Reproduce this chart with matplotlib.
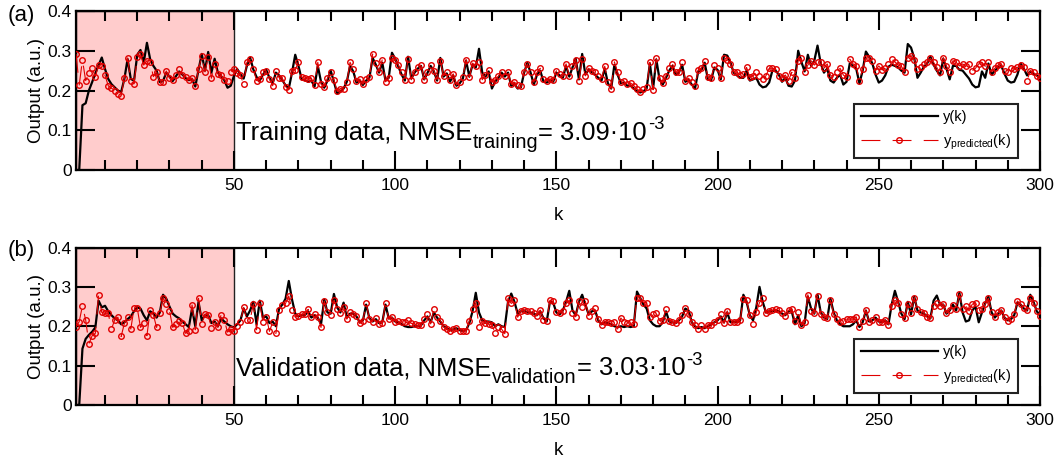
import numpy as np
import matplotlib
matplotlib.use('Agg')
import matplotlib.pyplot as plt
from matplotlib.ticker import MultipleLocator, FixedLocator, FixedFormatter

plt.rcParams['font.family'] = ['Liberation Sans', 'DejaVu Sans']
plt.rcParams['mathtext.fontset'] = 'custom'
plt.rcParams['mathtext.rm'] = 'Liberation Sans'
plt.rcParams['mathtext.it'] = 'Liberation Sans:italic'

#####data (k = 1..300)
# (a) training data, measured output y(k)
y_train = [
    0, 0, .163, .168, .200, .221, .243, .264, .283, .254,
    .229, .216, .208, .200, .196, .229, .279, .229, .225, .290,
    .302, .270, .320, .279, .262, .250, .221, .224, .245, .235,
    .224, .236, .248, .240, .232, .226, .229, .210, .252, .292,
    .250, .297, .245, .280, .245, .236, .226, .207, .212, .237,
    .254, .241, .230, .262, .283, .253, .234, .225, .240, .252,
    .232, .218, .245, .238, .226, .213, .205, .245, .290,
    .262, .228, .226, .222, .225, .210, .262, .222, .207, .225,
    .250, .222, .192, .198, .205, .222, .262, .248, .220, .225,
    .214, .225, .232, .282, .265, .245, .270, .225, .232, .295,
    .280, .260, .240, .225, .285, .230, .245, .255, .262, .228,
    .244, .262, .248, .225, .282, .235, .243, .222, .238, .212,
    .218, .230, .275, .235, .265, .258, .305, .245, .235, .248,
    .205, .222, .232, .245, .235, .245, .212, .216, .205, .208,
    .245, .270, .245, .215, .240, .250,
    .222, .220, .225, .222, .245, .238, .232, .262, .235, .258,
    .280, .228, .292, .240, .252, .246, .240, .232, .225, .255,
    .218, .205, .265, .240, .218, .220, .212, .212, .205, .198,
    .195, .198, .205, .268, .205, .278, .228, .215, .232, .250,
    .262, .240, .245, .265, .222, .226, .215, .205, .248, .252,
    .270, .228, .226, .258, .252, .228, .290, .288, .270, .245,
    .238, .232, .232, .250, .225, .228, .232, .215, .208, .210,
    .220, .250, .250, .240, .222,
    .232, .212, .210, .225, .300, .272, .248, .290, .262, .275,
    .313, .268, .245, .255, .225, .220, .232, .240, .215, .222,
    .268, .262, .255, .218, .250, .298, .285, .268, .240, .220,
    .225, .238, .260, .265, .262, .258, .250, .245, .317, .308,
    .282, .232, .245, .260, .268, .285, .265, .250, .238, .280,
    .255, .228, .262, .262, .252, .250, .240, .230, .215, .208,
    .210, .248, .232, .268, .240, .250, .258, .262, .242, .225,
    .220, .222, .240, .268, .255, .238, .248, .242, .238, .232]
# (a) training data, predicted output
yp_train = [
    .292, .214, .277, .225, .243, .256, .235, .264, .261, .238,
    .212, .206, .200, .191, .187, .232, .282, .223, .217, .284,
    .292, .264, .275, .271, .235, .247, .221, .221, .249, .232,
    .227, .238, .253, .240, .235, .227, .231, .212, .253, .287,
    .247, .284, .231, .267, .242, .238, .227, .223, .247, .255,
    .243, .238, .216, .271, .279, .254, .225, .229, .246, .250,
    .229, .212, .250, .232, .231, .210, .202, .250, .252,
    .272, .233, .231, .229, .231, .214, .271, .216, .210, .231,
    .247, .227, .198, .205, .205, .221, .271, .254, .223, .229,
    .216, .229, .233, .292, .268, .247, .278, .222, .231, .281,
    .278, .264, .246, .227, .279, .227, .247, .258, .264, .227,
    .247, .264, .250, .227, .275, .237, .246, .227, .242, .214,
    .221, .233, .278, .233, .269, .261, .271, .227, .239, .252,
    .221, .227, .236, .247, .237, .247, .216, .221, .214, .212,
    .247, .267, .246, .221, .246, .256,
    .229, .225, .229, .227, .250, .241, .237, .267, .237, .262,
    .278, .225, .279, .237, .256, .250, .246, .237, .229, .261,
    .221, .204, .272, .246, .221, .225, .216, .219, .212, .204,
    .197, .205, .210, .271, .202, .281, .231, .219, .237, .256,
    .267, .246, .247, .272, .225, .231, .221, .212, .252, .256,
    .275, .233, .231, .264, .256, .231, .281, .278, .267, .247,
    .246, .239, .241, .258, .233, .237, .246, .237, .229, .237,
    .256, .256, .254, .237, .231,
    .239, .225, .246, .231, .275, .281, .247, .264, .275, .264,
    .272, .272, .256, .267, .239, .233, .246, .256, .239, .233,
    .279, .267, .262, .225, .254, .281, .283, .275, .250, .262,
    .252, .256, .267, .279, .272, .264, .261, .247, .283, .288,
    .278, .254, .258, .267, .271, .281, .271, .258, .246, .283,
    .261, .247, .275, .271, .262, .267, .261, .267, .250, .256,
    .267, .271, .261, .271, .247, .256, .264, .267, .250, .247,
    .256, .254, .258, .264, .258, .225, .250, .246, .236, .232]
# (b) validation data, measured output y(k)
y_valid = [
    0, 0, .143, .168, .178, .186, .197, .265, .248, .252,
    .238, .228, .220, .215, .205, .210, .218, .225, .238, .248,
    .245, .228, .215, .238, .232, .222, .235, .280, .270, .250,
    .232, .225, .220, .212, .205, .198, .245, .200, .262, .215,
    .228, .228, .208, .212, .200, .220, .212, .205, .200, .197,
    .205, .215, .245, .225, .240, .262, .205, .265, .222, .225,
    .208, .212, .200, .245, .255, .270, .315, .268, .232, .225,
    .228,
    .228, .238, .222, .228, .222, .205, .268, .235, .232, .282,
    .248, .235, .260, .222, .232, .232, .225, .210, .215, .255,
    .220, .212, .218, .208, .210, .255, .220, .222, .212, .210,
    .205, .200, .198, .198, .200, .200, .202, .215, .225, .210,
    .235, .222, .212, .200, .195, .190, .192, .195, .190, .188,
    .190, .208, .238, .285, .235, .215, .212, .212, .210, .200,
    .205, .200, .198, .262, .283, .262, .232, .238, .240, .235,
    .235, .232, .228, .238, .220,
    .212, .262, .260, .235, .230, .240, .262, .290, .240, .228,
    .262, .280, .255, .230, .238, .240, .215, .205, .210, .208,
    .205, .200, .198, .200, .198, .200, .198, .200, .288, .272,
    .255, .245, .215, .205, .200, .200, .210, .238, .212, .210,
    .208, .215, .225, .245, .240, .210, .200, .195, .198, .195,
    .200, .205, .210, .215, .225, .210, .235, .210, .212, .210,
    .215, .280, .262, .228, .215, .248, .300, .262, .235, .238,
    .238, .240, .238, .232, .228,
    .238, .238, .205, .228, .200, .208, .275, .245, .232, .280,
    .235, .222, .218, .270, .235, .215, .205, .200, .200, .200,
    .205, .215, .198, .210, .240, .212, .215, .222, .212, .210,
    .215, .205, .255, .290, .262, .232, .218, .262, .230, .275,
    .240, .235, .232, .225, .220, .265, .278, .255, .255, .232,
    .240, .255, .240, .285, .235, .212, .215, .240, .250, .210,
    .235, .258, .275, .235, .222, .232, .240, .222, .215, .218,
    .228, .260, .255, .245, .240, .280, .262, .238, .228]
# (b) validation data, predicted output
yp_valid = [
    .197, .212, .252, .216, .155, .176, .182, .280, .235, .233,
    .233, .193, .216, .223, .174, .207, .224, .193, .246, .246,
    .197, .207, .176, .241, .229, .197, .233, .273, .256, .239,
    .197, .206, .214, .207, .182, .189, .254, .191, .271, .206,
    .231, .229, .196, .212, .197, .229, .216, .185, .193, .189,
    .201, .210, .248, .216, .216, .256, .191, .258, .210, .224,
    .187, .210, .182, .241, .254, .258, .277, .241, .223, .227,
    .231,
    .231, .243, .223, .231, .224, .197, .264, .235, .229, .266,
    .243, .233, .249, .218, .235, .231, .227, .207, .214, .260,
    .218, .212, .221, .206, .207, .258, .218, .223, .212, .214,
    .212, .210, .216, .207, .206, .202, .202, .218, .231, .206,
    .243, .223, .214, .199, .193, .189, .193, .196, .189, .187,
    .189, .214, .243, .260, .199, .214, .207, .206, .204, .182,
    .197, .193, .181, .271, .258, .266, .223, .239, .241, .238,
    .238, .233, .227, .241, .216,
    .214, .266, .263, .235, .233, .239, .258, .266, .233, .224,
    .263, .249, .263, .227, .239, .246, .218, .204, .212, .210,
    .207, .212, .193, .221, .210, .207, .210, .206, .273, .271,
    .260, .260, .223, .231, .233, .214, .216, .243, .214, .210,
    .207, .216, .229, .246, .231, .210, .202, .193, .202, .193,
    .204, .204, .210, .216, .231, .207, .239, .210, .212, .210,
    .216, .269, .266, .229, .206, .235, .260, .273, .233, .238,
    .241, .243, .241, .233, .227,
    .241, .243, .214, .235, .202, .210, .280, .239, .233, .277,
    .231, .224, .221, .266, .231, .218, .212, .214, .218, .218,
    .218, .224, .197, .214, .241, .212, .216, .224, .212, .210,
    .216, .204, .252, .266, .260, .231, .221, .256, .233, .273,
    .243, .235, .233, .223, .221, .252, .258, .252, .256, .233,
    .241, .254, .243, .281, .243, .252, .239, .256, .260, .241,
    .243, .256, .271, .235, .224, .235, .241, .223, .214, .218,
    .231, .264, .256, .246, .241, .271, .258, .239, .227]

# annotation pieces: main text, subscript, value, exponent
panels = [
    ('(a)', y_train, yp_train, ['Training data, NMSE', 'training', '= 3.09·10', '-3']),
    ('(b)', y_valid, yp_valid, ['Validation data, NMSE', 'validation', '= 3.03·10', '-3']),
]
ytick_vals = [0, 0.1, 0.2, 0.3, 0.4]
ytick_labels = ['0', '0.1', '0.2', '0.3', '0.4']
red = '#e00000'
fs_note = 18.4

fig = plt.figure(figsize=(10.57, 4.61), dpi=100)
renderer = fig.canvas.get_renderer()
# axes boxes in figure fractions [left, bottom, width, height]
boxes = [[0.0719, 0.6312, 0.912, 0.3449],
         [0.0719, 0.1215, 0.912, 0.3416]]
tag_y = [1 - 5 / 461, 1 - 240 / 461]

for (tag, y_meas, y_pred, note), box, ty in zip(panels, boxes, tag_y):
    ax = fig.add_axes(box)
    k_m = np.arange(1, len(y_meas) + 1)
    k_p = np.arange(1, len(y_pred) + 1)
    # shaded start-up region
    ax.axvspan(1, 50, facecolor='#ffcccc', edgecolor='#222222', lw=1.0, zorder=0)
    ax.plot(k_m, y_meas, color='black', lw=1.6, label='y(k)', zorder=2)
    l, = ax.plot(k_p, y_pred, color=red, lw=0.8, marker='o', ms=4, mfc='none',
                 mec=red, mew=1.0, label='y$_{\\mathrm{predicted}}$(k)', zorder=3)
    l.set_dashes([17, 11])
    ax.set_xlim(1, 300)
    ax.set_ylim(0, 0.4)
    ax.xaxis.set_major_locator(MultipleLocator(50))
    ax.xaxis.set_minor_locator(MultipleLocator(10))
    ax.yaxis.set_major_locator(FixedLocator(ytick_vals))
    ax.yaxis.set_major_formatter(FixedFormatter(ytick_labels))
    ax.set_xticks([50, 100, 150, 200, 250, 300])
    ax.tick_params(which='both', direction='in', top=True, right=True,
                   width=1.5, labelsize=12.5, color='black')
    ax.tick_params(axis='x', which='major', length=14, pad=6)
    ax.tick_params(axis='x', which='minor', length=7)
    ax.tick_params(axis='y', which='major', length=14, pad=3)
    for s in ax.spines.values():
        s.set_linewidth(1.6)
    ax.set_xlabel('k', fontsize=13.5, labelpad=10)
    ax.set_ylabel('Output (a.u.)', fontsize=13.5, labelpad=2)

    # NMSE note, written piece by piece so sub/superscripts sit like the original
    x0, y0 = 50.6, 0.076
    t = ax.text(x0, y0, note[0], fontsize=fs_note, va='baseline', ha='left')
    w = t.get_window_extent(renderer).width * 72 / fig.dpi
    t = ax.annotate(note[1], xy=(x0, y0), xytext=(w + 0.5, -6), textcoords='offset points',
                    fontsize=fs_note * 0.78, va='baseline', ha='left')
    w += 0.5 + t.get_window_extent(renderer).width * 72 / fig.dpi
    t = ax.annotate(note[2], xy=(x0, y0), xytext=(w, 0), textcoords='offset points',
                    fontsize=fs_note, va='baseline', ha='left')
    w += t.get_window_extent(renderer).width * 72 / fig.dpi
    ax.annotate(note[3], xy=(x0, y0), xytext=(w + 0.5, 7.5), textcoords='offset points',
                fontsize=fs_note * 0.72, va='baseline', ha='left')

    leg = ax.legend(loc='lower right', bbox_to_anchor=(0.977, 0.075), borderaxespad=0,
                    fontsize=10.5, handlelength=5.3, handletextpad=0.35,
                    labelspacing=0.55, borderpad=0.45, fancybox=False,
                    framealpha=1, edgecolor='#222222')
    leg.get_frame().set_linewidth(1.5)
    fig.text(0.007, ty, tag, fontsize=16, va='top', ha='left')

fig.savefig('out.png', dpi=100)
